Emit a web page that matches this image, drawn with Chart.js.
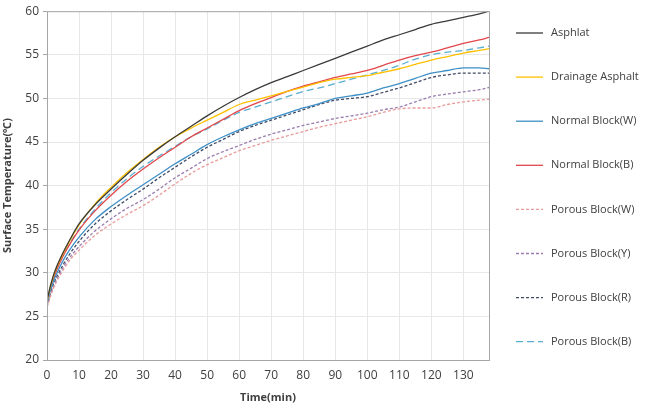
<!DOCTYPE html>
<html>
<head>
<meta charset="utf-8">
<script src="https://cdn.jsdelivr.net/npm/chart.js@4/dist/chart.umd.min.js"></script>
<style>
  html, body { margin: 0; padding: 0; background: #fff; }
  #wrap { width: 647px; height: 408px; }
</style>
</head>
<body>
<div id="wrap"><canvas id="chart" width="647" height="408"></canvas></div>
<script>
// time (min)
const times = [0, 1, 2, 3, 5, 7, 10, 15, 20, 25, 30, 35, 40, 45, 50, 55, 60, 65, 70, 75, 80, 85, 90, 95, 100, 105, 110, 115, 120, 125, 130, 135, 138];
const xTicks = [0, 10, 20, 30, 40, 50, 60, 70, 80, 90, 100, 110, 120, 130];

// surface temperature (°C)
const asphalt     = [26.8, 28.4, 29.7, 30.7, 32.3, 33.7, 35.6, 37.8, 39.6, 41.3, 42.9, 44.3, 45.6, 46.8, 48.0, 49.1, 50.1, 51.0, 51.8, 52.5, 53.2, 53.9, 54.6, 55.3, 56.0, 56.7, 57.3, 57.9, 58.5, 58.9, 59.3, 59.7, 60.0];
const drainage    = [26.7, 28.3, 29.6, 30.6, 32.2, 33.6, 35.5, 37.9, 39.8, 41.5, 43.0, 44.4, 45.6, 46.6, 47.5, 48.4, 49.3, 49.8, 50.3, 50.8, 51.3, 51.8, 52.2, 52.4, 52.6, 53.0, 53.4, 53.9, 54.4, 54.8, 55.2, 55.5, 55.7];
const normalW     = [26.4, 27.9, 29.0, 29.9, 31.4, 32.6, 34.1, 36.1, 37.6, 38.9, 40.1, 41.3, 42.5, 43.6, 44.7, 45.6, 46.4, 47.1, 47.7, 48.3, 48.9, 49.4, 50.0, 50.3, 50.6, 51.2, 51.7, 52.3, 52.9, 53.2, 53.5, 53.5, 53.4];
const normalB     = [26.5, 28.1, 29.3, 30.3, 31.9, 33.2, 34.9, 37.1, 38.9, 40.5, 41.9, 43.2, 44.4, 45.6, 46.6, 47.6, 48.6, 49.4, 50.1, 50.8, 51.4, 51.9, 52.4, 52.8, 53.2, 53.8, 54.4, 54.9, 55.3, 55.8, 56.3, 56.7, 57.0];
const porousW     = [26.0, 27.2, 28.2, 29.0, 30.3, 31.4, 32.6, 34.3, 35.6, 36.7, 37.7, 38.9, 40.2, 41.4, 42.4, 43.2, 44.0, 44.6, 45.2, 45.7, 46.2, 46.7, 47.1, 47.5, 47.9, 48.4, 48.8, 48.9, 48.9, 49.3, 49.6, 49.8, 49.9];
const porousY     = [26.1, 27.4, 28.4, 29.2, 30.6, 31.7, 33.0, 34.8, 36.2, 37.4, 38.4, 39.6, 40.9, 42.0, 43.1, 43.9, 44.6, 45.3, 45.9, 46.4, 46.9, 47.3, 47.7, 48.0, 48.3, 48.7, 49.0, 49.6, 50.2, 50.5, 50.75, 51.0, 51.25];
const porousR     = [26.2, 27.6, 28.7, 29.5, 30.9, 32.1, 33.6, 35.6, 37.1, 38.4, 39.6, 40.9, 42.1, 43.3, 44.4, 45.3, 46.2, 46.9, 47.5, 48.1, 48.7, 49.3, 49.8, 50.0, 50.2, 50.7, 51.2, 51.8, 52.4, 52.7, 52.9, 52.9, 52.9];
const porousB     = [26.6, 28.2, 29.4, 30.4, 32.0, 33.3, 35.0, 37.3, 39.2, 40.8, 42.2, 43.4, 44.5, 45.6, 46.5, 47.5, 48.4, 49.0, 49.6, 50.2, 50.8, 51.2, 51.7, 52.2, 52.7, 53.2, 53.8, 54.5, 55.0, 55.3, 55.5, 55.8, 56.0];

const seriesNames = ['Asphlat', 'Drainage Asphalt', 'Normal Block(W)', 'Normal Block(B)', 'Porous Block(W)', 'Porous Block(Y)', 'Porous Block(R)', 'Porous Block(B)'];
const seriesData = [asphalt, drainage, normalW, normalB, porousW, porousY, porousR, porousB];
const seriesColors = ['#3a3a3a', '#ffc000', '#3d8fc6', '#e2474b', '#e99a9a', '#9a7cae', '#3f4b66', '#5aaed0'];
const seriesDash = [[], [], [], [], [3, 2], [3, 2], [3, 2], [7, 4]];

const TXT = '#404040';
const FONT = '"Open Sans", "Noto Sans", sans-serif';

const datasets = seriesNames.map((name, i) => ({
    label: name,
    data: times.map((t, k) => ({ x: t, y: seriesData[i][k] })),
    borderColor: seriesColors[i],
    borderDash: seriesDash[i],
    borderWidth: 1.3,
    pointRadius: 0,
    cubicInterpolationMode: 'monotone',
    fill: false
}));

// frame round the plot area + legend on the right
const framePlugin = {
    id: 'frame',
    afterDraw(chart) {
        const { ctx, chartArea: a } = chart;
        ctx.save();
        ctx.strokeStyle = '#a6a6a6';
        ctx.lineWidth = 1;
        ctx.strokeRect(a.left + 0.5, a.top + 0.5, a.right - a.left, a.bottom - a.top);

        ctx.font = '11px ' + FONT;
        ctx.textBaseline = 'middle';
        chart.data.datasets.forEach((ds, i) => {
            const y = 33 + i * 44.1;
            ctx.strokeStyle = ds.borderColor;
            ctx.lineWidth = 1.3;
            ctx.setLineDash(ds.borderDash);
            ctx.beginPath();
            ctx.moveTo(516, y);
            ctx.lineTo(543, y);
            ctx.stroke();
            ctx.setLineDash([]);
            ctx.fillStyle = TXT;
            ctx.fillText(ds.label, 551, y);
        });
        ctx.restore();
    }
};

new Chart(document.getElementById('chart'), {
    type: 'line',
    data: { datasets },
    plugins: [framePlugin],
    options: {
        responsive: false,
        animation: false,
        layout: { padding: { top: 11, right: 158, left: 0, bottom: 0 } },
        plugins: { legend: { display: false }, tooltip: { enabled: false } },
        scales: {
            x: {
                type: 'linear',
                min: 0,
                max: 138,
                ticks: { color: TXT, font: { family: FONT, size: 12 }, maxRotation: 0, autoSkip: false, padding: 2 },
                afterBuildTicks: s => { s.ticks = xTicks.map(v => ({ value: v })); },
                afterFit: s => { s.height = 48; },
                grid: { color: '#e8e8e8', tickLength: 6, tickColor: '#ffffff' },
                border: { display: false },
                title: { display: true, text: 'Time(min)', color: TXT, font: { family: FONT, size: 11, weight: 'bold' }, padding: { top: 2, bottom: 4 } }
            },
            y: {
                min: 20,
                max: 60,
                ticks: { stepSize: 5, color: TXT, font: { family: FONT, size: 12 }, padding: 4 },
                afterFit: s => { s.width = 47; },
                grid: { color: '#e8e8e8', tickLength: 4, tickColor: '#a6a6a6' },
                border: { display: false },
                title: { display: true, text: 'Surface Temperature(℃)', color: TXT, font: { family: FONT, size: 11, weight: 'bold' }, padding: { top: 1, bottom: 0 } }
            }
        }
    }
});
</script>
</body>
</html>
